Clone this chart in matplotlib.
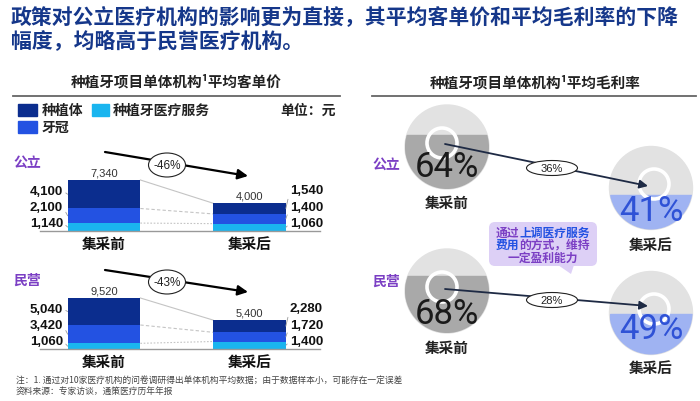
import matplotlib
matplotlib.use('Agg')
import matplotlib.pyplot as plt
from matplotlib.patches import Ellipse, Circle, Rectangle, FancyBboxPatch, Polygon
import numpy as np

plt.rcParams['font.family'] = ['Noto Sans CJK SC', 'DejaVu Sans']

# ---------------- data ----------------
stages = ['集采前', '集采后']
legend_labels = ['种植体', '种植牙医疗服务', '牙冠']
groups = ['公立', '民营']

public_service = [1140, 1060]
public_crown = [2100, 1400]
public_implant = [4100, 1540]

private_service = [1060, 1400]
private_crown = [3420, 1720]
private_implant = [5040, 2280]

public_margin = [64, 41]
private_margin = [68, 49]

title_lines = ['政策对公立医疗机构的影响更为直接，其平均客单价和平均毛利率的下降',
               '幅度，均略高于民营医疗机构。']
left_title = '种植牙项目单体机构¹平均客单价'
right_title = '种植牙项目单体机构¹平均毛利率'
unit_text = '单位：元'
note_lines = ['注：1. 通过对10家医疗机构的问卷调研得出单体机构平均数据；由于数据样本小，可能存在一定误差',
              '资料来源：专家访谈，通策医疗历年年报']

# ---------------- style ----------------
NAVY = '#0b2d8e'
BLUE = '#2352e2'
CYAN = '#1ab5ef'
PURPLE = '#7b3fc4'
TITLE = '#15378a'
LIGHT = '#e2e2e2'
DGRAY = '#a9a9a9'
LBLUE = '#9fb3f2'
PCT_BLUE = '#2f52d6'
NARROW = ['Liberation Sans', 'DejaVu Sans']
SANS = ['Liberation Sans', 'DejaVu Sans']
THIN = ['Roboto', 'Liberation Sans', 'DejaVu Sans']

W, H = 700, 402
fig = plt.figure(figsize=(7, 4.02), dpi=100)
ax0 = fig.add_axes([0, 0, 1, 1])
ax0.set_xlim(0, W)
ax0.set_ylim(H, 0)
ax0.axis('off')


def px_axes(x0, y0, x1, y1):
    return fig.add_axes([x0 / W, 1 - y1 / H, (x1 - x0) / W, (y1 - y0) / H])


# titles
ax0.text(11, 18, title_lines[0], fontsize=15, weight='bold', color=TITLE, va='center', ha='left')
ax0.text(11, 42, title_lines[1], fontsize=15, weight='bold', color=TITLE, va='center', ha='left')
ax0.text(176, 82, left_title, fontsize=10.5, weight='bold', ha='center', va='center', color='#222')
ax0.plot([13, 340], [97, 97], color='#666', lw=1.3)
ax0.text(535, 83, right_title, fontsize=10.5, weight='bold', ha='center', va='center', color='#222')
ax0.plot([372, 696], [97, 97], color='#666', lw=1.3)

# legend
ax0.add_patch(Rectangle((18, 105), 19, 12, color=NAVY))
ax0.text(42, 111, legend_labels[0], fontsize=10, weight='bold', va='center', color='#222')
ax0.add_patch(Rectangle((92, 105), 17, 12, color=CYAN))
ax0.text(113, 111, legend_labels[1], fontsize=10, weight='bold', va='center', color='#222')
ax0.add_patch(Rectangle((18, 122), 19, 12, color=BLUE))
ax0.text(42, 128, legend_labels[2], fontsize=10, weight='bold', va='center', color='#222')
ax0.text(336, 111, unit_text, fontsize=10, weight='bold', va='center', ha='right', color='#222')


def bar_panel(base, service, crown, implant, group, label_y, arrow_start, arrow_end, ell_c):
    service = np.array(service)
    crown = np.array(crown)
    implant = np.array(implant)
    total = service + crown + implant
    ax = px_axes(40, base - 92, 320, base)
    x = np.arange(len(stages))
    ax.bar(x, service, 0.5, color=CYAN, zorder=2)
    ax.bar(x, crown, 0.5, bottom=service, color=BLUE, zorder=2)
    ax.bar(x, implant, 0.5, bottom=service + crown, color=NAVY, zorder=2)
    ax.set_xlim(-0.44, 1.485)
    ax.set_ylim(0, total.max() * 92 / 51)
    ax.patch.set_alpha(0)
    for s in ['top', 'left', 'right']:
        ax.spines[s].set_visible(False)
    ax.spines['bottom'].set_color('#999')
    ax.spines['bottom'].set_linewidth(1)
    ax.set_yticks([])
    ax.set_xticks(x, stages)
    ax.tick_params(axis='x', length=0, pad=3, labelsize=10.5)
    for lb in ax.get_xticklabels():
        lb.set_fontweight('bold')
        lb.set_color('#111')
    # connectors
    bounds = [service, service + crown, total]
    styles = [(0, (1.5, 1.5)), (0, (3, 2)), '-']
    for b, st in zip(bounds, styles):
        ax.plot([0.25, 0.75], [b[0], b[1]], color='#c4c4c4', lw=0.8, ls=st, zorder=1)
    # totals
    for i, t in enumerate(total):
        ax.annotate(f'{t:,}', xy=(i, t), xytext=(0, 2), textcoords='offset points',
                    ha='center', va='bottom', fontsize=8, color='#333', family=SANS)
    # segment labels
    segs = [service, crown, implant]
    lows = [np.zeros(2), service, service + crown]
    for k in range(3):
        for i in range(2):
            mid = lows[k][i] + segs[k][i] / 2
            if i == 0:
                tx, ha, xe, rp = 63, 'right', -0.25, (1, 0.5)
                ty = base - 8 - 16 * k
            else:
                tx, ha, xe, rp = 290, 'left', 1.25, (0, 0.5)
                ty = base - 7.5 - 16.5 * k
            ax.annotate(f'{segs[k][i]:,}', xy=(xe, mid), xycoords='data',
                        xytext=(tx, ty), textcoords=ax0.transData,
                        ha=ha, va='center', fontsize=9.5, weight='bold', color='#111',
                        family=NARROW,
                        arrowprops=dict(arrowstyle='-', color='#999', lw=0.6,
                                        shrinkA=0, shrinkB=0, relpos=rp))
    ax0.text(13, label_y, group, color=PURPLE, fontsize=10, weight='bold', va='center')
    ax0.annotate('', xy=arrow_end, xytext=arrow_start,
                 arrowprops=dict(arrowstyle='-|>,head_length=0.6,head_width=0.3',
                                 color='k', lw=1.6, shrinkA=0, shrinkB=0))
    ax0.add_patch(Ellipse(ell_c, 37, 24, fc='white', ec='#222', lw=0.8, zorder=5))
    change = round((total[1] / total[0] - 1) * 100)
    ax0.text(ell_c[0], ell_c[1], f'{change}%', ha='center', va='center', fontsize=8.5,
             family=SANS, color='#222', zorder=6)


bar_panel(232, public_service, public_crown, public_implant, groups[0], 163,
          (105, 153), (248, 177), (167, 166))
bar_panel(350, private_service, private_crown, private_implant, groups[1], 281,
          (105, 271), (248, 293), (167, 283))


def gauge(cx, cy, r, pct, fill_color, text_color, ring_dx, text_y, lab, lab_y):
    ax0.add_patch(Circle((cx, cy), r, color=LIGHT, zorder=2))
    level = cy + r - 2 * r * pct / 100
    rect = Rectangle((cx - r, level), 2 * r, cy + r - level, color=fill_color, zorder=3)
    ax0.add_patch(rect)
    rect.set_clip_path(Circle((cx, cy), r, transform=ax0.transData))
    ax0.add_patch(Circle((cx + ring_dx, cy - 4), 15, fill=False, ec='white', lw=2.6, zorder=4))
    ax0.text(cx, text_y, f'{pct}%', ha='center', va='center', fontsize=25, weight='normal',
             family=THIN, color=text_color, zorder=5)
    ax0.text(cx, lab_y, lab, ha='center', va='center', fontsize=10.5, weight='bold',
             color='#222', zorder=5)


def margin_panel(vals, y_before, y_after, group, label_y, ty_b, ty_a, ly_b, ly_a, arrow_s, arrow_e, ell_c):
    gauge(447, y_before, 42, vals[0], DGRAY, '#1a1a1a', -5, ty_b, stages[0], ly_b)
    gauge(651, y_after, 41.5, vals[1], LBLUE, PCT_BLUE, 3, ty_a, stages[1], ly_a)
    ax0.text(372, label_y, group, color=PURPLE, fontsize=10, weight='bold', va='center')
    ax0.annotate('', xy=arrow_e, xytext=arrow_s, zorder=6,
                 arrowprops=dict(arrowstyle='-|>,head_length=0.5,head_width=0.25',
                                 color='#1e2a44', lw=1.3, shrinkA=0, shrinkB=0))
    ax0.add_patch(Ellipse(ell_c, 51, 15, fc='white', ec='#222', lw=0.8, zorder=7))
    drop = round((vals[0] - vals[1]) / vals[0] * 100)
    ax0.text(ell_c[0], ell_c[1], f'{drop}%', ha='center', va='center', fontsize=8,
             family=SANS, color='#222', zorder=8)


margin_panel(public_margin, 148, 189, groups[0], 165, 168, 212, 203, 245,
             (445, 145), (648, 187), (552, 169))
margin_panel(private_margin, 292, 314, groups[1], 282, 315, 330, 348, 368,
             (445, 290), (648, 307), (552, 301))

# callout
ax0.add_patch(FancyBboxPatch((489, 223), 108, 44, boxstyle='round,pad=0,rounding_size=6',
                             fc='#ddd0f6', ec='none', zorder=9))
ax0.add_patch(Polygon([(558, 266), (574, 266), (571, 275)], closed=True, fc='#ddd0f6',
                      ec='none', zorder=9))
cfs = 8.5
cw = cfs * 100 / 72
xs = 543 - 4 * cw
t1 = ax0.text(xs, 233, '通过', color=PURPLE, fontsize=cfs, weight='bold', va='center', ha='left', zorder=10)
ax0.annotate('上调医疗服务', xy=(1, 0.5), xycoords=t1, color=BLUE, fontsize=cfs, weight='bold',
             va='center', ha='left', zorder=10)
t2 = ax0.text(xs, 245.5, '费用', color=BLUE, fontsize=cfs, weight='bold', va='center', ha='left', zorder=10)
ax0.annotate('的方式，维持', xy=(1, 0.5), xycoords=t2, color=PURPLE, fontsize=cfs, weight='bold',
             va='center', ha='left', zorder=10)
ax0.text(543, 258, '一定盈利能力', color=PURPLE, fontsize=cfs, weight='bold', va='center',
         ha='center', zorder=10)

# notes
ax0.text(16, 380, note_lines[0], fontsize=6.3, color='#444', va='center')
ax0.text(16, 391, note_lines[1], fontsize=6.3, color='#444', va='center')

fig.savefig('out.png', dpi=100)
